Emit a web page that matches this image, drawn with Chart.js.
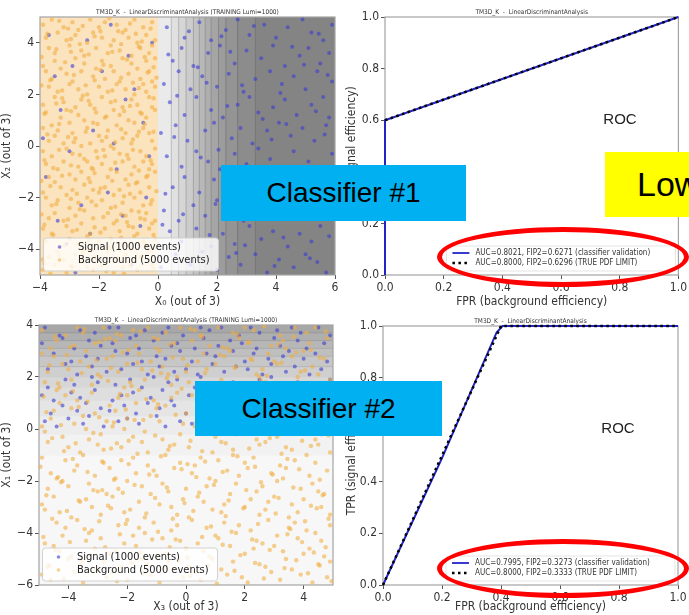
<!DOCTYPE html>
<html>
<head>
<meta charset="utf-8">
<script src="https://cdn.jsdelivr.net/npm/chart.js@4.4.1/dist/chart.umd.min.js"></script>
<style>
  html, body { margin: 0; padding: 0; background: #fff; }
  #page { position: relative; width: 689px; height: 615px; overflow: hidden; background: #fff; }
  canvas { position: absolute; }
  .note { position: absolute; display: flex; align-items: center; color: #000;
          font-family: 'Liberation Sans', Arial, sans-serif; box-sizing: border-box; white-space: nowrap; }
  .blue { background: #00b0f0; justify-content: center; font-size: 28px; }
  .yellow { background: #ffff00; font-size: 34px; padding-left: 32px; }
  .ring { position: absolute; box-sizing: border-box; border: 5px solid #ff0000; border-radius: 50%; }
</style>
</head>
<body>
<div id="page">
  <canvas id="c1" width="345" height="310" style="left:0;top:0"></canvas>
  <canvas id="c2" width="344" height="310" style="left:345px;top:0"></canvas>
  <canvas id="c3" width="345" height="305" style="left:0;top:310px"></canvas>
  <canvas id="c4" width="344" height="305" style="left:345px;top:310px"></canvas>

  <div class="note blue" style="left:221px;top:165px;width:245px;height:56px">Classifier #1</div>
  <div class="note yellow" style="left:605px;top:152px;width:110px;height:65px">Low</div>
  <div class="note blue" style="left:195px;top:381px;width:247px;height:55px">Classifier #2</div>
  <div class="ring" style="left:437px;top:227px;width:252px;height:60px"></div>
  <div class="ring" style="left:437px;top:539px;width:252px;height:59px"></div>
</div>
<script>
// ---------- data ----------
const plotTitleScatter = 'TM3D_K  -  LinearDiscriminantAnalysis (TRAINING Lumi=1000)';
const plotTitleRoc = 'TM3D_K  -  LinearDiscriminantAnalysis';
const seriesNames = ['Signal (1000 events)', 'Background (5000 events)'];
const rocNames = ['classifier validation', 'TRUE PDF LIMIT'];

// classifier #1 : X0 vs X2 (flat x,y pairs)
const tlSignal = [
  0.3,4.6, 0.9,4.2, 1.4,4.8, 1.8,4.1, 2.3,4.5, 2.7,4.9, 3.1,4.3, 3.6,4.7, 4.0,4.2, 4.4,4.6, 4.9,4.9, 5.2,4.4, 5.6,4.1, 5.9,4.7,
  0.5,3.3, 0.8,3.8, 1.2,3.1, 1.7,3.6, 2.1,3.9, 2.6,3.2, 3.0,3.7, 3.5,3.4, 3.9,3.9, 4.3,3.1, 4.8,3.5, 5.1,3.8, 5.5,3.2, 5.8,3.6,
  0.2,2.4, 0.7,2.9, 1.1,2.2, 1.5,2.7, 2.0,2.3, 2.4,2.8, 2.9,2.1, 3.3,2.6, 3.8,2.9, 4.2,2.4, 4.6,2.7, 5.0,2.2, 5.4,2.9, 5.9,2.5,
  0.4,1.7, 0.9,1.2, 1.3,1.9, 1.8,1.4, 2.2,1.1, 2.7,1.6, 3.1,1.9, 3.4,1.3, 3.9,1.5, 4.3,1.8, 4.7,1.2, 5.2,1.6, 5.6,1.9, 5.8,1.1,
  0.1,0.5, 0.6,0.8, 1.0,0.2, 1.6,0.6, 1.9,0.9, 2.5,0.3, 2.8,0.7, 3.2,0.1, 3.7,0.6, 4.1,0.9, 4.5,0.4, 4.9,0.7, 5.3,0.2, 5.7,0.8,
  0.3,-0.4, 0.8,-0.8, 1.3,-0.2, 1.7,-0.6, 2.1,-0.9, 2.6,-0.3, 3.0,-0.7, 3.4,-0.1, 3.8,-0.5, 4.3,-0.8, 4.6,-0.2, 5.1,-0.6, 5.5,-0.9, 5.9,-0.3,
  0.5,-1.6, 0.9,-1.2, 1.4,-1.8, 1.9,-1.3, 2.3,-1.7, 2.8,-1.1, 3.2,-1.5, 3.6,-1.9, 4.0,-1.2, 4.5,-1.6, 4.8,-1.9, 5.3,-1.3, 5.6,-1.7, 5.8,-1.1,
  0.2,-2.5, 0.7,-2.9, 1.2,-2.3, 1.6,-2.7, 2.0,-2.1, 2.5,-2.6, 2.9,-2.9, 3.3,-2.4, 3.8,-2.2, 4.2,-2.8, 4.7,-2.5, 5.0,-2.1, 5.4,-2.7, 5.9,-2.4,
  0.4,-3.3, 0.8,-3.7, 1.3,-3.2, 1.8,-3.9, 2.2,-3.4, 2.6,-3.8, 3.1,-3.1, 3.5,-3.6, 3.9,-3.3, 4.4,-3.9, 4.8,-3.4, 5.2,-3.7, 5.5,-3.1, 5.8,-3.5,
  0.1,-4.7, 0.6,-4.2, 1.1,-4.6, 1.5,-4.1, 2.0,-4.8, 2.4,-4.3, 2.8,-4.6, 3.3,-4.2, 3.7,-4.9, 4.1,-4.4, 4.6,-4.7, 5.0,-4.2, 5.4,-4.5, 5.7,-4.9,
  0.35,3.55, 1.05,4.45, 1.65,2.45, 2.45,3.65, 3.25,4.65, 4.15,2.05, 4.95,3.15, 5.45,4.35, 0.55,0.35, 1.45,-0.45,
  2.35,1.55, 3.05,-1.35, 3.85,0.25, 4.65,-0.95, 5.35,1.35, 5.85,-2.15, 0.85,-2.65, 1.75,-3.45, 2.65,-4.15, 3.45,-2.75,
  4.25,-3.55, 5.15,-4.35, 0.25,-1.85, 1.15,-4.45, 2.05,-0.15, 2.95,-3.85, 3.65,-0.85, 4.55,3.85, 5.65,0.45, 0.65,1.95,
  1.35,3.05, 2.15,4.25, 2.85,2.35, 3.55,1.05, 4.35,0.85, 5.05,-1.45, 5.75,2.75, 0.15,-3.05, 1.95,-2.25, 3.95,-4.65,
  -3.7,4.3, -2.9,3.1, -1.6,4.7, -0.8,2.2, -3.3,1.4, -2.2,0.6, -1.1,1.8, -0.3,-0.4, -3.8,-1.2, -2.6,-2.3,
  -1.4,-0.9, -0.6,-3.1, -3.1,-3.8, -2.0,-4.4, -1.2,-2.7, -0.2,4.0, -3.5,2.7, -2.4,4.1, -1.9,2.9, -0.5,0.9,
  -3.0,-0.2, -1.7,-1.8, -0.9,-4.6, -2.8,-4.9, -3.9,0.3, -2.3,-3.4, -1.0,3.5, -0.4,-2.0, -3.4,-2.9, -1.5,0.1
];
const tlBackground = [
  -3.9,4.7,-3.6,4.9,-3.2,4.6,-2.9,4.8,-2.7,4.5,-2.3,4.9,-2.0,4.6,-1.8,4.8,-1.4,4.7,-1.1,4.5,-0.8,4.9,-0.5,4.6,-0.2,4.8,
  -3.8,4.2,-3.4,4.4,-3.1,4.1,-2.8,4.3,-2.4,4.0,-2.2,4.4,-1.9,4.2,-1.5,4.1,-1.2,4.4,-1.0,4.2,-0.7,4.0,-0.4,4.3,-0.1,4.1,
  -3.7,3.8,-3.5,3.6,-3.0,3.9,-2.6,3.7,-2.5,3.5,-2.1,3.8,-1.7,3.6,-1.6,3.9,-1.3,3.7,-0.9,3.5,-0.6,3.8,-0.3,3.6,-0.2,3.9,
  -3.9,3.1,-3.5,3.3,-3.3,3.0,-2.8,3.4,-2.5,3.2,-2.1,3.0,-1.9,3.3,-1.6,3.1,-1.2,3.4,-0.9,3.2,-0.7,3.0,-0.4,3.3,-0.1,3.4,
  -3.8,2.9,-3.6,2.6,-3.1,2.8,-2.9,2.5,-2.6,2.9,-2.2,2.7,-1.8,2.6,-1.5,2.9,-1.3,2.5,-1.0,2.8,-0.6,2.6,-0.3,2.9,-0.2,2.5,
  -3.7,2.3,-3.4,2.1,-3.0,2.4,-2.7,2.2,-2.4,2.0,-2.0,2.3,-1.7,2.1,-1.4,2.4,-1.1,2.2,-0.8,2.0,-0.5,2.4,-0.4,2.1,-0.1,2.3,
  -3.9,1.6,-3.5,1.9,-3.2,1.7,-2.8,1.5,-2.6,1.8,-2.3,1.6,-1.9,1.9,-1.6,1.7,-1.2,1.5,-0.9,1.8,-0.7,1.6,-0.3,1.9,-0.2,1.5,
  -3.8,1.3,-3.3,1.1,-3.1,1.4,-2.7,1.2,-2.5,1.0,-2.1,1.3,-1.8,1.1,-1.5,1.4,-1.3,1.2,-1.0,1.0,-0.6,1.3,-0.4,1.1,-0.1,1.4,
  -3.6,0.8,-3.4,0.6,-3.0,0.9,-2.9,0.5,-2.4,0.7,-2.2,0.9,-1.7,0.6,-1.4,0.8,-1.1,0.5,-0.8,0.9,-0.5,0.7,-0.3,0.5,-3.9,0.7,
  -3.7,0.2,-3.5,0.4,-3.2,0.1,-2.8,0.3,-2.6,0.0,-2.0,0.4,-1.9,0.2,-1.6,0.0,-1.2,0.3,-0.9,0.1,-0.7,0.4,-0.2,0.2,-2.3,0.1,
  -3.9,-0.2,-3.6,-0.4,-3.1,-0.1,-2.9,-0.3,-2.5,-0.5,-2.1,-0.2,-1.8,-0.4,-1.5,-0.1,-1.3,-0.3,-1.0,-0.5,-0.6,-0.2,-0.4,-0.4,-0.1,-0.1,
  -3.8,-0.7,-3.4,-0.9,-3.2,-0.6,-2.7,-0.8,-2.4,-0.6,-2.2,-0.9,-1.9,-0.7,-1.6,-0.9,-1.2,-0.6,-0.8,-0.8,-0.5,-0.6,-0.3,-0.9,-0.2,-0.7,
  -3.7,-1.2,-3.5,-1.4,-3.0,-1.1,-2.8,-1.3,-2.6,-1.0,-2.3,-1.4,-1.7,-1.2,-1.4,-1.0,-1.1,-1.3,-0.9,-1.1,-0.7,-1.4,-0.4,-1.2,-0.1,-1.0,
  -3.9,-1.8,-3.3,-1.6,-3.1,-1.9,-2.9,-1.7,-2.5,-1.5,-2.0,-1.8,-1.8,-1.6,-1.5,-1.9,-1.3,-1.7,-1.0,-1.5,-0.6,-1.8,-0.3,-1.6,-2.2,-1.7,
  -3.6,-2.3,-3.4,-2.1,-3.0,-2.4,-2.7,-2.2,-2.4,-2.0,-2.1,-2.3,-1.9,-2.1,-1.6,-2.4,-1.2,-2.2,-0.8,-2.0,-0.5,-2.3,-0.2,-2.1,-3.8,-2.0,
  -3.7,-2.8,-3.5,-2.6,-3.2,-2.9,-2.8,-2.7,-2.5,-2.5,-2.2,-2.8,-1.7,-2.6,-1.4,-2.9,-1.1,-2.7,-0.9,-2.5,-0.6,-2.8,-0.4,-2.6,-0.1,-2.9,
  -3.9,-3.2,-3.6,-3.4,-3.1,-3.1,-2.9,-3.3,-2.6,-3.0,-2.3,-3.4,-1.8,-3.2,-1.5,-3.0,-1.3,-3.3,-1.0,-3.1,-0.7,-3.4,-0.3,-3.2,-0.2,-3.0,
  -3.8,-3.7,-3.3,-3.9,-3.0,-3.6,-2.7,-3.8,-2.4,-3.5,-2.0,-3.7,-1.9,-3.9,-1.6,-3.6,-1.2,-3.8,-0.8,-3.5,-0.5,-3.7,-0.4,-3.9,-0.1,-3.6,
  -3.7,-4.3,-3.4,-4.1,-3.2,-4.4,-2.8,-4.2,-2.5,-4.0,-2.1,-4.3,-1.7,-4.1,-1.4,-4.4,-1.1,-4.2,-0.9,-4.0,-0.6,-4.3,-0.3,-4.1,-3.9,-4.4,
  -3.9,-4.8,-3.5,-4.6,-3.1,-4.9,-2.9,-4.7,-2.6,-4.5,-2.2,-4.8,-1.9,-4.6,-1.5,-4.9,-1.2,-4.7,-1.0,-4.5,-0.7,-4.8,-0.2,-4.6,-2.4,-4.7,
  -3.75,4.35,-3.35,4.85,-2.95,4.15,-2.55,4.65,-2.15,4.25,-1.65,4.95,-1.35,4.45,-0.95,4.75,-0.55,4.05,-0.25,4.55,-3.05,4.55,-1.95,4.45,-0.75,4.35,
  -3.95,3.45,-3.45,3.75,-3.15,3.25,-2.65,3.95,-2.35,3.55,-1.85,3.15,-1.55,3.65,-1.05,3.35,-0.65,3.85,-0.15,3.05,-2.95,3.65,-1.25,3.95,-0.45,3.45,
  -3.65,2.55,-3.25,2.15,-2.85,2.75,-2.45,2.35,-1.95,2.95,-1.55,2.15,-1.25,2.65,-0.85,2.45,-0.35,2.85,-0.05,2.65,-3.95,2.35,-2.15,2.55,-0.65,2.25,
  -3.85,1.25,-3.45,1.65,-2.95,1.35,-2.55,1.95,-2.15,1.45,-1.75,1.15,-1.45,1.75,-0.95,1.55,-0.55,1.25,-0.15,1.85,-3.25,1.85,-1.15,1.35,-2.35,1.75,
  -3.75,0.45,-3.35,0.85,-2.85,0.15,-2.45,0.55,-2.05,0.85,-1.75,0.35,-1.25,0.65,-0.85,0.25,-0.45,0.85,-0.15,0.55,-3.05,0.35,-1.45,0.15,-0.65,0.55,
  -3.85,-0.55,-3.35,-0.15,-2.95,-0.75,-2.65,-0.35,-2.25,-0.85,-1.85,-0.15,-1.45,-0.65,-1.05,-0.35,-0.65,-0.95,-0.25,-0.55,-3.55,-0.85,-2.05,-0.45,-0.85,-0.15,
  -3.65,-1.55,-3.25,-1.15,-2.75,-1.85,-2.35,-1.25,-1.95,-1.65,-1.55,-1.35,-1.15,-1.95,-0.75,-1.45,-0.35,-1.15,-0.05,-1.75,-3.95,-1.35,-2.15,-1.05,-0.95,-1.85,
  -3.95,-2.65,-3.45,-2.25,-3.05,-2.85,-2.65,-2.45,-2.25,-2.15,-1.85,-2.75,-1.45,-2.35,-1.05,-2.95,-0.65,-2.55,-0.25,-2.25,-2.95,-2.05,-1.25,-2.65,-0.45,-2.85,
  -3.55,-3.45,-3.15,-3.85,-2.75,-3.25,-2.35,-3.65,-1.95,-3.35,-1.65,-3.95,-1.25,-3.55,-0.85,-3.15,-0.45,-3.75,-0.15,-3.45,-3.85,-3.05,-2.15,-3.15,-1.05,-3.85,
  -3.85,-4.55,-3.35,-4.25,-2.95,-4.65,-2.55,-4.15,-2.05,-4.45,-1.75,-4.85,-1.35,-4.35,-0.95,-4.65,-0.55,-4.25,-0.15,-4.75,-3.65,-4.95,-2.25,-4.05,-1.15,-4.95
];
// classifier output map along X0: band edges and grey level of each band
const tlMapEdges = [0, 0.45, 0.7, 0.95, 1.2, 1.4, 1.6, 1.8, 2.05, 2.3, 2.7, 3.3, 6];
const tlMapShades = [234, 224, 214, 204, 194, 184, 174, 165, 156, 148, 140, 132];
const tlXTicks = [-4, -2, 0, 2, 4, 6];
const tlYTicks = [-4, -2, 0, 2, 4];

// classifier #2 : X3 vs X1
const blSignal = [
  -4.8,0.3,-4.4,0.1,-4.0,0.4,-3.5,0.2,-3.3,0.5,-2.8,0.1,-2.3,0.3,-2.0,0.4,-1.6,0.2,-1.0,0.5,-0.7,0.1,-0.2,0.3,0.2,0.2,0.7,0.4,1.0,0.1,1.5,0.5,2.0,0.3,2.4,0.2,3.0,0.4,3.4,0.1,3.9,0.5,4.5,0.3,
  -4.6,0.6,-4.2,0.9,-3.7,0.7,-3.4,1.0,-2.9,0.8,-2.6,0.7,-2.1,0.9,-1.7,0.6,-1.3,1.0,-0.9,0.8,-0.4,0.9,0.0,0.6,0.4,1.0,0.9,0.7,1.3,0.8,1.8,0.6,2.2,0.9,2.7,1.0,3.2,0.7,3.7,0.8,4.1,0.6,4.7,0.9,
  -4.9,1.3,-4.5,1.1,-3.9,1.4,-3.6,1.2,-3.1,1.5,-2.5,1.1,-2.2,1.3,-1.8,1.4,-1.2,1.2,-0.8,1.5,-0.5,1.1,0.1,1.3,0.6,1.2,0.8,1.4,1.4,1.1,1.7,1.5,2.3,1.3,2.6,1.2,3.1,1.4,3.6,1.1,4.3,1.5,4.8,1.3,
  -4.7,1.6,-4.1,1.9,-3.8,1.7,-3.2,2.0,-3.0,1.8,-2.4,1.7,-1.9,1.9,-1.5,1.6,-1.1,2.0,-0.6,1.8,-0.3,1.9,0.3,1.6,0.5,2.0,1.1,1.7,1.6,1.8,1.9,1.6,2.5,1.9,2.9,2.0,3.3,1.7,3.8,1.8,4.2,1.6,4.9,1.9,
  4.6,2.3,4.2,2.1,3.7,2.4,3.4,2.2,2.9,2.5,2.6,2.1,2.1,2.3,1.7,2.4,1.3,2.2,0.9,2.5,0.4,2.1,0.0,2.3,-0.4,2.2,-0.9,2.4,-1.3,2.1,-1.8,2.5,-2.2,2.3,-2.7,2.2,-3.2,2.4,-3.7,2.1,-4.1,2.5,-4.7,2.3,
  4.8,2.6,4.4,2.9,4.0,2.7,3.5,3.0,3.3,2.8,2.8,2.7,2.3,2.9,2.0,2.6,1.6,3.0,1.0,2.8,0.7,2.9,0.2,2.6,-0.2,3.0,-0.7,2.7,-1.0,2.8,-1.5,2.6,-2.0,2.9,-2.4,3.0,-3.0,2.7,-3.4,2.8,-3.9,2.6,-4.5,2.9,
  4.7,3.3,4.1,3.1,3.8,3.4,3.2,3.2,3.0,3.5,2.4,3.1,1.9,3.3,1.5,3.4,1.1,3.2,0.6,3.5,0.3,3.1,-0.3,3.3,-0.5,3.2,-1.1,3.4,-1.6,3.1,-1.9,3.5,-2.5,3.3,-2.9,3.2,-3.3,3.4,-3.8,3.1,-4.2,3.5,-4.9,3.3,
  4.9,3.6,4.5,3.9,3.9,3.7,3.6,3.9,3.1,3.8,2.5,3.7,2.2,3.9,1.8,3.6,1.2,3.9,0.8,3.8,0.5,3.9,-0.1,3.6,-0.6,3.9,-0.8,3.7,-1.4,3.8,-1.7,3.6,-2.3,3.9,-2.6,3.9,-3.1,3.7,-3.6,3.8,-4.3,3.6,-4.8,3.9
];
const blBackground = [
  -4.9,-5.6,-4.6,-5.8,-3.8,-5.5,-3.5,-5.9,-2.7,-5.7,-2.5,-5.5,-2.0,-5.8,-1.2,-5.6,-0.9,-5.9,-0.1,-5.7,0.3,-5.5,0.5,-5.8,1.4,-5.6,1.9,-5.7,2.1,-5.9,2.9,-5.5,3.2,-5.8,3.9,-5.6,4.3,-5.9,4.8,-5.7,
  -4.7,-5.3,-4.0,-5.0,-3.6,-5.2,-3.0,-5.4,-2.8,-5.1,-2.2,-5.3,-1.5,-5.0,-1.3,-5.2,-0.6,-5.1,-0.4,-5.4,0.1,-5.3,0.9,-5.0,1.2,-5.4,1.6,-5.1,2.5,-5.2,2.7,-5.3,3.4,-5.0,3.6,-5.4,4.5,-5.2,4.9,-5.1,
  -4.5,-4.5,-4.3,-4.7,-3.9,-4.9,-3.1,-4.6,-2.6,-4.8,-2.4,-4.7,-1.7,-4.5,-1.0,-4.9,-0.7,-4.8,0.0,-4.6,0.6,-4.7,0.8,-4.9,1.5,-4.5,2.0,-4.8,2.3,-4.6,3.0,-4.5,3.3,-4.7,4.0,-4.8,4.2,-4.6,4.7,-4.9,
  -4.8,-4.4,-4.2,-4.1,-3.4,-4.3,-3.3,-4.0,-2.9,-4.2,-2.1,-4.4,-1.8,-4.1,-1.4,-4.0,-0.8,-4.2,-0.2,-4.3,0.4,-4.4,1.0,-4.1,1.1,-4.2,1.7,-4.0,2.4,-4.3,2.6,-4.4,3.1,-4.1,3.8,-4.2,4.4,-4.0,4.6,-4.3,
  -4.4,-3.6,-4.1,-3.8,-3.7,-3.5,-3.2,-3.9,-2.3,-3.7,-2.0,-3.5,-1.6,-3.8,-1.1,-3.6,-0.5,-3.9,-0.3,-3.7,0.2,-3.5,0.7,-3.8,1.3,-3.6,1.8,-3.7,2.2,-3.9,2.8,-3.5,3.5,-3.8,3.7,-3.6,4.1,-3.9,4.9,-3.7,
  4.9,-3.3,4.6,-3.0,3.8,-3.2,3.5,-3.4,2.7,-3.1,2.5,-3.3,2.0,-3.0,1.2,-3.2,0.9,-3.1,0.1,-3.4,-0.3,-3.3,-0.5,-3.0,-1.4,-3.4,-1.9,-3.1,-2.1,-3.2,-2.9,-3.3,-3.2,-3.0,-3.9,-3.4,-4.3,-3.2,-4.8,-3.1,
  4.7,-2.5,4.0,-2.7,3.6,-2.9,3.0,-2.6,2.8,-2.8,2.2,-2.7,1.5,-2.5,1.3,-2.9,0.6,-2.8,0.4,-2.6,-0.1,-2.7,-0.9,-2.9,-1.2,-2.5,-1.6,-2.8,-2.5,-2.6,-2.7,-2.5,-3.4,-2.7,-3.6,-2.8,-4.5,-2.6,-4.9,-2.9,
  4.5,-2.4,4.3,-2.1,3.9,-2.3,3.1,-2.0,2.6,-2.2,2.4,-2.4,1.7,-2.1,1.0,-2.0,0.7,-2.2,0.0,-2.3,-0.6,-2.4,-0.8,-2.1,-1.5,-2.2,-2.0,-2.0,-2.3,-2.3,-3.0,-2.4,-3.3,-2.1,-4.0,-2.2,-4.2,-2.0,-4.7,-2.3,
  4.8,-1.6,4.2,-1.8,3.4,-1.5,3.3,-1.9,2.9,-1.7,2.1,-1.5,1.8,-1.8,1.4,-1.6,0.8,-1.9,0.2,-1.7,-0.4,-1.5,-1.0,-1.8,-1.1,-1.6,-1.7,-1.7,-2.4,-1.9,-2.6,-1.5,-3.1,-1.8,-3.8,-1.6,-4.4,-1.9,-4.6,-1.7,
  4.4,-1.3,4.1,-1.0,3.7,-1.2,3.2,-1.4,2.3,-1.1,2.0,-1.3,1.6,-1.0,1.1,-1.2,0.5,-1.1,0.3,-1.4,-0.2,-1.3,-0.7,-1.0,-1.3,-1.4,-1.8,-1.1,-2.2,-1.2,-2.8,-1.3,-3.5,-1.0,-3.7,-1.4,-4.1,-1.2,-4.9,-1.1,
  -4.7,-0.5,-4.0,-0.7,-3.6,-0.9,-3.0,-0.6,-2.8,-0.8,-2.2,-0.7,-1.5,-0.5,-1.3,-0.9,-0.6,-0.8,-0.4,-0.6,0.1,-0.7,0.9,-0.9,1.2,-0.5,1.6,-0.8,2.5,-0.6,2.7,-0.5,3.4,-0.7,3.6,-0.8,4.5,-0.6,4.9,-0.9,
  -4.8,-0.1,-4.2,-0.3,-3.4,0.0,-3.3,-0.4,-2.9,-0.2,-2.1,0.0,-1.8,-0.3,-1.4,-0.1,-0.8,-0.4,-0.2,-0.2,0.4,0.0,1.0,-0.3,1.1,-0.1,1.7,-0.2,2.4,-0.4,2.6,0.0,3.1,-0.3,3.8,-0.1,4.4,-0.4,4.6,-0.2,
  -4.9,0.1,-4.6,0.4,-3.8,0.2,-3.5,0.5,-2.7,0.3,-2.5,0.1,-2.0,0.4,-1.2,0.5,-0.9,0.3,-0.1,0.2,0.3,0.1,0.5,0.4,1.4,0.3,1.9,0.5,2.1,0.2,2.9,0.1,3.2,0.4,3.9,0.3,4.3,0.5,4.8,0.2,
  -4.5,0.7,-4.3,1.0,-3.9,0.8,-3.1,0.6,-2.6,0.9,-2.4,0.7,-1.7,1.0,-1.0,0.8,-0.7,0.9,0.0,0.6,0.6,0.7,0.8,1.0,1.5,0.6,2.0,0.9,2.3,0.8,3.0,0.7,3.3,1.0,4.0,0.6,4.2,0.8,4.7,0.9,
  -4.4,1.5,-4.1,1.3,-3.7,1.1,-3.2,1.4,-2.3,1.2,-2.0,1.3,-1.6,1.5,-1.1,1.1,-0.5,1.2,-0.3,1.4,0.2,1.3,0.7,1.1,1.3,1.5,1.8,1.2,2.2,1.4,2.8,1.5,3.5,1.3,3.7,1.2,4.1,1.4,4.9,1.1,
  4.9,1.9,4.6,1.7,3.8,2.0,3.5,1.6,2.7,1.8,2.5,2.0,2.0,1.7,1.2,1.9,0.9,1.6,0.1,1.8,-0.3,2.0,-0.5,1.7,-1.4,1.9,-1.9,1.8,-2.1,1.6,-2.9,2.0,-3.2,1.7,-3.9,1.9,-4.3,1.6,-4.8,1.8,
  4.5,2.1,4.3,2.4,3.9,2.2,3.1,2.5,2.6,2.3,2.4,2.1,1.7,2.4,1.0,2.5,0.7,2.3,0.0,2.2,-0.6,2.1,-0.8,2.4,-1.5,2.3,-2.0,2.5,-2.3,2.2,-3.0,2.1,-3.3,2.4,-4.0,2.3,-4.2,2.5,-4.7,2.2,
  4.7,2.7,4.0,3.0,3.6,2.8,3.0,2.6,2.8,2.9,2.2,2.7,1.5,3.0,1.3,2.8,0.6,2.9,0.4,2.6,-0.1,2.7,-0.9,3.0,-1.2,2.6,-1.6,2.9,-2.5,2.8,-2.7,2.7,-3.4,3.0,-3.6,2.6,-4.5,2.8,-4.9,2.9,
  4.8,3.5,4.2,3.3,3.4,3.1,3.3,3.4,2.9,3.2,2.1,3.3,1.8,3.5,1.4,3.1,0.8,3.2,0.2,3.4,-0.4,3.3,-1.0,3.1,-1.1,3.5,-1.7,3.2,-2.4,3.4,-2.6,3.5,-3.1,3.3,-3.8,3.2,-4.4,3.4,-4.6,3.1,
  4.4,3.9,4.1,3.7,3.7,3.9,3.2,3.6,2.3,3.8,2.0,3.9,1.6,3.7,1.1,3.9,0.5,3.6,0.3,3.8,-0.2,3.9,-0.7,3.7,-1.3,3.9,-1.8,3.8,-2.2,3.6,-2.8,3.9,-3.5,3.7,-3.7,3.9,-4.1,3.6,-4.9,3.8,
  -4.65,-5.25,-4.15,-5.75,-3.55,-5.05,-3.05,-5.45,-2.35,-5.85,-1.85,-5.15,-1.45,-5.55,-0.75,-5.35,-0.25,-5.05,0.15,-5.65,0.75,-5.25,1.05,-5.95,1.65,-5.45,2.35,-5.15,2.65,-5.75,3.35,-5.35,3.75,-5.05,4.15,-5.55,4.55,-5.25,4.95,-5.85,
  -4.85,-4.15,-4.45,-4.65,-3.95,-4.35,-3.25,-4.85,-2.75,-4.55,-2.25,-4.05,-1.55,-4.75,-1.15,-4.25,-0.55,-4.55,0.05,-4.95,0.55,-4.15,1.25,-4.45,1.85,-4.85,2.25,-4.25,2.85,-4.65,3.45,-4.05,3.95,-4.35,4.35,-4.75,4.75,-4.55,-0.35,-4.25,
  -4.55,-3.45,-4.05,-3.15,-3.45,-3.85,-2.95,-3.55,-2.55,-3.05,-2.05,-3.65,-1.35,-3.25,-0.95,-3.95,-0.45,-3.45,0.25,-3.15,0.85,-3.75,1.35,-3.35,1.95,-3.05,2.45,-3.65,3.05,-3.25,3.55,-3.85,4.05,-3.55,4.45,-3.05,4.85,-3.45,1.55,-3.95,
  -4.75,-2.55,-4.25,-2.05,-3.65,-2.75,-3.15,-2.35,-2.65,-2.95,-2.15,-2.45,-1.75,-2.15,-1.05,-2.65,-0.65,-2.25,-0.05,-2.85,0.45,-2.45,0.95,-2.15,1.45,-2.75,2.05,-2.35,2.55,-2.05,3.15,-2.65,3.65,-2.25,4.25,-2.95,4.65,-2.55,-2.85,-2.35,
  -4.95,-1.45,-4.35,-1.85,-3.85,-1.15,-3.35,-1.65,-2.85,-1.25,-2.45,-1.95,-1.95,-1.35,-1.25,-1.75,-0.85,-1.05,-0.15,-1.55,0.35,-1.85,0.65,-1.25,1.25,-1.65,1.75,-1.05,2.35,-1.45,2.95,-1.75,3.45,-1.15,3.85,-1.55,4.55,-1.95,0.05,-1.35,
  -4.55,-0.35,-4.15,-0.85,-3.75,-0.55,-3.15,-0.15,-2.55,-0.75,-1.95,-0.45,-1.65,-0.95,-1.05,-0.25,-0.55,-0.65,0.15,-0.45,0.55,-0.85,1.35,-0.55,1.85,-0.15,2.15,-0.75,2.85,-0.35,3.25,-0.95,3.95,-0.45,4.25,-0.65,4.85,-0.25,-2.35,-0.55,
  -4.75,0.65,-4.25,0.15,-3.65,0.85,-2.95,0.45,-2.45,0.25,-2.05,0.75,-1.45,0.35,-0.95,0.95,-0.35,0.55,0.35,0.25,0.85,0.65,1.15,0.15,1.75,0.85,2.45,0.45,2.75,0.35,3.45,0.75,3.85,0.15,4.35,0.55,4.75,0.95,-1.75,0.35,
  -4.85,1.25,-4.35,1.75,-3.85,1.45,-3.35,1.05,-2.65,1.85,-2.25,1.35,-1.85,1.65,-1.35,1.15,-0.65,1.95,-0.15,1.55,0.45,1.25,1.05,1.75,1.55,1.05,2.05,1.45,2.55,1.85,3.15,1.25,3.55,1.65,4.15,1.35,4.65,1.15,0.75,1.55,
  -4.65,2.45,-4.05,2.85,-3.55,2.15,-3.05,2.65,-2.55,2.35,-2.15,2.95,-1.65,2.55,-1.15,2.25,-0.45,2.75,0.05,2.45,0.65,2.15,1.15,2.85,1.65,2.35,2.25,2.65,2.75,2.05,3.25,2.55,3.75,2.95,4.05,2.25,4.55,2.75,-0.85,2.15,
  -4.45,3.55,-3.95,3.15,-3.45,3.85,-2.95,3.35,-2.35,3.65,-1.95,3.05,-1.55,3.75,-0.95,3.45,-0.55,3.25,0.15,3.85,0.55,3.55,1.25,3.15,1.75,3.65,2.15,3.35,2.65,3.95,3.15,3.25,3.65,3.55,4.25,3.05,4.75,3.75,-2.75,3.45
];
// classifier output map along X1: band edges and grey level of each band
const blMapEdges = [-6, -1.0, -0.2, 0.5, 1.1, 1.6, 2.0, 2.4, 2.8, 3.1, 3.4, 3.7, 4];
const blMapShades = [247, 242, 236, 229, 222, 215, 207, 199, 191, 183, 175, 167];
const blXTicks = [-4, -2, 0, 2, 4];
const blYTicks = [-6, -4, -2, 0, 2, 4];

// ROC curves
const roc1ValFPR = [0, 0, 1];
const roc1ValTPR = [0, 0.6, 1];
const roc1TrueFPR = [0, 1];
const roc1TrueTPR = [0.6, 1];
const roc1AUC = [0.8021, 0.8000];
const roc1FIP2 = [0.6271, 0.6296];

const roc2ValFPR = [0, 0.2, 0.385, 0.405, 1];
const roc2ValTPR = [0, 0.49, 0.975, 1, 1];
const roc2TrueFPR = [0, 0.4, 1];
const roc2TrueTPR = [0, 1, 1];
const roc2AUC = [0.7995, 0.8000];
const roc2FIP2 = [0.3273, 0.3333];

const rocTicks = [0, 0.2, 0.4, 0.6, 0.8, 1.0];

// ---------- helpers ----------
const FONT = "'DejaVu Sans Condensed','DejaVu Sans',sans-serif";
const SIG = 'rgba(60,60,210,0.6)';
const BKG = 'rgba(242,172,62,0.58)';

const pairs = a => { const out = []; for (let i = 0; i < a.length; i += 2) out.push({ x: a[i], y: a[i + 1] }); return out; };
const zip = (xs, ys) => xs.map((x, i) => ({ x, y: ys[i] }));
const fmtInt = v => (v < 0 ? '\u2212' : '') + Math.abs(v);
const fmt1 = v => v.toFixed(1);

function axis(o) {
  return {
    type: 'linear', min: o.min, max: o.max,
    afterBuildTicks: s => { s.ticks = o.ticks.map(v => ({ value: v })); },
    afterFit: s => { if (s.isHorizontal()) s.height = o.size; else s.width = o.size; },
    ticks: { color: '#333', font: { family: FONT, size: 12 }, padding: 2, autoSkip: false, maxRotation: 0,
             callback: v => o.fmt(v) },
    grid: { drawOnChartArea: false, drawTicks: true, tickLength: 4, tickColor: '#555', tickWidth: 1 },
    border: { display: false },
    title: { display: true, text: o.title, color: '#333', font: { family: FONT, size: 12 }, padding: { top: 0, bottom: 1 } }
  };
}

function roundBox(ctx, x, y, w, h, r) {
  ctx.beginPath();
  ctx.moveTo(x + r, y); ctx.lineTo(x + w - r, y); ctx.arcTo(x + w, y, x + w, y + r, r);
  ctx.lineTo(x + w, y + h - r); ctx.arcTo(x + w, y + h, x + w - r, y + h, r);
  ctx.lineTo(x + r, y + h); ctx.arcTo(x, y + h, x, y + h - r, r);
  ctx.lineTo(x, y + r); ctx.arcTo(x, y, x + r, y, r); ctx.closePath();
}

// background map, frame and title of a panel
function panelPlugin(title, drawMap) {
  return {
    id: 'panel',
    beforeDatasetsDraw(chart) {
      const { ctx, chartArea: a } = chart;
      ctx.save();
      if (drawMap) {
        ctx.beginPath(); ctx.rect(a.left, a.top, a.width, a.height); ctx.clip();
        drawMap(chart, ctx, a);
        ctx.restore(); ctx.save();
      }
      ctx.strokeStyle = '#a3a3a3'; ctx.lineWidth = 1.2;
      ctx.strokeRect(a.left, a.top, a.width, a.height);
      ctx.fillStyle = '#333'; ctx.font = '6.5px ' + FONT; ctx.textAlign = 'center'; ctx.textBaseline = 'alphabetic';
      ctx.fillText(title, (a.left + a.right) / 2, a.top - 3);
      ctx.restore();
    }
  };
}

function scatterLegend() {
  return {
    id: 'scatterLegend',
    afterDatasetsDraw(chart) {
      const { ctx, chartArea: a } = chart;
      const x = a.left + 3.5, y = a.bottom - 37;
      ctx.save();
      roundBox(ctx, x, y, 175, 33, 3);
      ctx.fillStyle = 'rgba(255,255,255,0.8)'; ctx.fill();
      ctx.strokeStyle = 'rgba(205,205,205,0.9)'; ctx.lineWidth = 1; ctx.stroke();
      [SIG, BKG].forEach((c, i) => {
        const cy = a.bottom - 28 + i * 13;
        ctx.fillStyle = c; ctx.beginPath(); ctx.arc(a.left + 19.5, cy, 1.8, 0, Math.PI * 2); ctx.fill();
        ctx.fillStyle = '#222'; ctx.font = '11px ' + FONT; ctx.textAlign = 'left'; ctx.textBaseline = 'middle';
        ctx.fillText(seriesNames[i], a.left + 38, cy);
      });
      ctx.restore();
    }
  };
}

function rocLegend(auc, fip) {
  return {
    id: 'rocLegend',
    afterDatasetsDraw(chart) {
      const { ctx, chartArea: a } = chart;
      ctx.save();
      roundBox(ctx, a.right - 232, a.bottom - 29, 229, 25, 3);
      ctx.fillStyle = 'rgba(255,255,255,0.8)'; ctx.fill();
      ctx.strokeStyle = 'rgba(225,225,225,0.9)'; ctx.lineWidth = 1; ctx.stroke();
      for (let i = 0; i < 2; i++) {
        const cy = a.bottom - 22 + i * 10;
        ctx.beginPath(); ctx.moveTo(a.right - 226, cy); ctx.lineTo(a.right - 209, cy);
        if (i === 0) { ctx.strokeStyle = '#2323c8'; ctx.lineWidth = 1.8; ctx.setLineDash([]); }
        else { ctx.strokeStyle = '#000'; ctx.lineWidth = 2.5; ctx.setLineDash([2.5, 3.5]); }
        ctx.stroke(); ctx.setLineDash([]);
        ctx.fillStyle = '#333'; ctx.font = '8px ' + FONT; ctx.textAlign = 'left'; ctx.textBaseline = 'middle';
        ctx.fillText('AUC=' + auc[i].toFixed(4) + ', FIP2=' + fip[i].toFixed(4) + ' (' + rocNames[i] + ')', a.right - 203, cy);
      }
      ctx.fillStyle = '#222'; ctx.font = "15px 'Liberation Sans', Arial, sans-serif";
      ctx.textAlign = 'center'; ctx.textBaseline = 'middle';
      ctx.fillText('ROC', a.left + 235, a.top + 103);
      ctx.restore();
    }
  };
}

const common = { responsive: false, animation: false, devicePixelRatio: 1, events: [],
                 plugins: { legend: { display: false }, tooltip: { enabled: false } } };

function scatterChart(id, sig, bkg, pad, xa, ya, mapFn) {
  return new Chart(document.getElementById(id), {
    type: 'scatter',
    data: { datasets: [
      { data: pairs(bkg), pointRadius: 2.2, pointBackgroundColor: BKG, pointBorderWidth: 0, order: 0, clip: 0 },
      { data: pairs(sig), pointRadius: 2.0, pointBackgroundColor: SIG, pointBorderWidth: 0, order: 1, clip: 0 }
    ] },
    options: Object.assign({}, common, {
      layout: { padding: pad, autoPadding: false },
      scales: { x: axis(xa), y: axis(ya) }
    }),
    plugins: [panelPlugin(plotTitleScatter, mapFn), scatterLegend()]
  });
}

function rocChart(id, val, tru, pad, yW, auc, fip) {
  return new Chart(document.getElementById(id), {
    type: 'scatter',
    data: { datasets: [
      { data: tru, showLine: true, borderColor: '#000', borderWidth: 2.5, borderDash: [2.5, 3.5], pointRadius: 0, order: 0, clip: 5 },
      { data: val, showLine: true, borderColor: '#2323c8', borderWidth: 2, pointRadius: 0, order: 1, clip: 5 }
    ] },
    options: Object.assign({}, common, {
      layout: { padding: pad, autoPadding: false },
      scales: {
        x: axis({ min: 0, max: 1, ticks: rocTicks, fmt: fmt1, size: pad.xH, title: 'FPR (background efficiency)' }),
        y: axis({ min: 0, max: 1, ticks: rocTicks, fmt: fmt1, size: yW, title: 'TPR (signal efficiency)' })
      }
    }),
    plugins: [panelPlugin(plotTitleRoc, null), rocLegend(auc, fip)]
  });
}

// ---------- classifier #1 ----------
scatterChart('c1', tlSignal, tlBackground, { left: 0, top: 17, right: 10, bottom: 0 },
  { min: -4, max: 6, ticks: tlXTicks, fmt: fmtInt, size: 35, title: 'X\u2080 (out of 3)' },
  { min: -5, max: 5, ticks: tlYTicks, fmt: fmtInt, size: 40, title: 'X\u2082 (out of 3)' },
  (chart, ctx, a) => {
    const x = chart.scales.x;
    const x0 = x.getPixelForValue(tlMapEdges[0]);
    ctx.fillStyle = '#fae3bd';
    ctx.fillRect(a.left, a.top, x0 - a.left, a.height);
    for (let i = 0; i < tlMapShades.length; i++) {
      const p0 = x.getPixelForValue(tlMapEdges[i]), p1 = x.getPixelForValue(tlMapEdges[i + 1]);
      const g = tlMapShades[i];
      ctx.fillStyle = 'rgb(' + g + ',' + g + ',' + g + ')';
      ctx.fillRect(p0, a.top, p1 - p0 + 0.5, a.height);
    }
    ctx.strokeStyle = 'rgba(40,40,40,0.28)'; ctx.lineWidth = 0.8;
    for (let i = 1; i < tlMapEdges.length - 1; i++) {
      const p = x.getPixelForValue(tlMapEdges[i]);
      ctx.beginPath(); ctx.moveTo(p, a.top); ctx.lineTo(p, a.bottom); ctx.stroke();
    }
  });

rocChart('c2', zip(roc1ValFPR, roc1ValTPR), zip(roc1TrueFPR, roc1TrueTPR),
  { left: 0, top: 17, right: 10, bottom: 0, xH: 35 }, 40, roc1AUC, roc1FIP2);

// ---------- classifier #2 ----------
scatterChart('c3', blSignal, blBackground, { left: 0, top: 15, right: 12, bottom: 0 },
  { min: -5, max: 5, ticks: blXTicks, fmt: fmtInt, size: 30, title: 'X\u2083 (out of 3)' },
  { min: -6, max: 4, ticks: blYTicks, fmt: fmtInt, size: 39, title: 'X\u2081 (out of 3)' },
  (chart, ctx, a) => {
    const y = chart.scales.y;
    for (let i = 0; i < blMapShades.length; i++) {
      const p0 = y.getPixelForValue(blMapEdges[i]), p1 = y.getPixelForValue(blMapEdges[i + 1]);
      const g = blMapShades[i];
      ctx.fillStyle = 'rgb(' + g + ',' + g + ',' + g + ')';
      ctx.fillRect(a.left, p1, a.width, p0 - p1 + 0.5);
    }
    ctx.strokeStyle = 'rgba(40,40,40,0.15)'; ctx.lineWidth = 0.7;
    for (let i = 7; i < blMapEdges.length - 1; i++) {
      const p = y.getPixelForValue(blMapEdges[i]);
      ctx.beginPath(); ctx.moveTo(a.left, p); ctx.lineTo(a.right, p); ctx.stroke();
    }
  });

rocChart('c4', zip(roc2ValFPR, roc2ValTPR), zip(roc2TrueFPR, roc2TrueTPR),
  { left: 0, top: 16, right: 11, bottom: 0, xH: 30 }, 38, roc2AUC, roc2FIP2);
</script>
</body>
</html>
